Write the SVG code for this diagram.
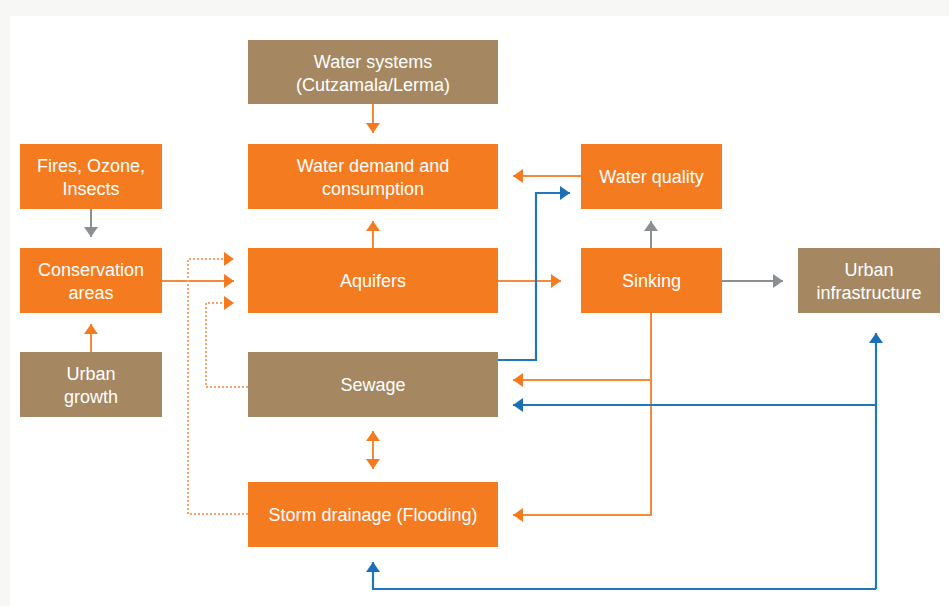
<svg xmlns="http://www.w3.org/2000/svg" width="949" height="606" viewBox="0 0 949 606">
<style>
.o{fill:#f47b20}
.b{fill:#a58861}
text{font-family:"Liberation Sans",Arial,sans-serif;font-size:18px;fill:#ffffff;text-anchor:middle}
.lo{stroke:#f58a3c;stroke-width:2;fill:none}
.lg{stroke:#8c8f92;stroke-width:2;fill:none}
.lb{stroke:#1f76bc;stroke-width:2.2;fill:none}
.ld{stroke:#f7a26a;stroke-width:2;fill:none;stroke-dasharray:2 2}
</style>
<defs>
<marker id="ao" viewBox="0 0 10 14" refX="10" refY="7" markerWidth="10" markerHeight="14" markerUnits="userSpaceOnUse" orient="auto"><path d="M0,0 L10,7 L0,14 Z" fill="#f47b20"/></marker>
<marker id="ag" viewBox="0 0 10 14" refX="10" refY="7" markerWidth="10" markerHeight="14" markerUnits="userSpaceOnUse" orient="auto"><path d="M0,0 L10,7 L0,14 Z" fill="#8c8f92"/></marker>
<marker id="ab" viewBox="0 0 10 14" refX="10" refY="7" markerWidth="10" markerHeight="14" markerUnits="userSpaceOnUse" orient="auto"><path d="M0,0 L10,7 L0,14 Z" fill="#1a70b8"/></marker>
<marker id="aos" viewBox="0 0 10 14" refX="0" refY="7" markerWidth="10" markerHeight="14" markerUnits="userSpaceOnUse" orient="auto"><path d="M10,0 L0,7 L10,14 Z" fill="#f47b20"/></marker>
</defs>
<rect x="0" y="0" width="949" height="606" fill="#f7f8f5"/>
<rect x="10" y="16" width="939" height="590" fill="#ffffff"/>

<g id="connectors">
<line class="lo" x1="373" y1="104" x2="373" y2="133" marker-end="url(#ao)"/>
<line class="lo" x1="373" y1="248" x2="373" y2="221" marker-end="url(#ao)"/>
<line class="lo" x1="581" y1="176" x2="513" y2="176" marker-end="url(#ao)"/>
<line class="lg" x1="91" y1="209" x2="91" y2="237" marker-end="url(#ag)"/>
<line class="lo" x1="91" y1="352" x2="91" y2="324" marker-end="url(#ao)"/>
<line class="lo" x1="162" y1="281" x2="234" y2="281" marker-end="url(#ao)"/>
<polyline class="ld" points="248,514 188,514 188,259 226,259"/>
<path d="M224,252 L234,259 L224,266 Z" fill="#f47b20"/>
<polyline class="ld" points="248,387 206,387 206,303 226,303"/>
<path d="M224,296 L234,303 L224,310 Z" fill="#f47b20"/>
<line class="lo" x1="498" y1="281" x2="561" y2="281" marker-end="url(#ao)"/>
<line class="lg" x1="651" y1="248" x2="651" y2="221" marker-end="url(#ag)"/>
<line class="lg" x1="722" y1="281" x2="783" y2="281" marker-end="url(#ag)"/>
<polyline class="lo" points="651,313 651,515 513,515" marker-end="url(#ao)"/>
<polyline class="lo" points="651,380 513,380" marker-end="url(#ao)"/>
<line class="lo" x1="373" y1="431" x2="373" y2="469" marker-start="url(#aos)" marker-end="url(#ao)"/>
<polyline class="lb" points="498,360 536,360 536,193 570,193" marker-end="url(#ab)"/>
<polyline class="lb" points="876,589 876,333" marker-end="url(#ab)"/>
<polyline class="lb" points="876,405 513,405" marker-end="url(#ab)"/>
<polyline class="lb" points="876,589 373,589 373,562" marker-end="url(#ab)"/>
</g>

<g id="water-systems"><rect class="b" x="248" y="40" width="250" height="64"/><text x="373" y="68">Water systems</text><text x="373" y="91">(Cutzamala/Lerma)</text></g>
<g id="water-demand"><rect class="o" x="248" y="144" width="250" height="65"/><text x="373" y="172">Water demand and</text><text x="373" y="195">consumption</text></g>
<g id="fires"><rect class="o" x="20" y="144" width="142" height="65"/><text x="91" y="172">Fires, Ozone,</text><text x="91" y="195">Insects</text></g>
<g id="water-quality"><rect class="o" x="581" y="144" width="141" height="65"/><text x="651.5" y="183">Water quality</text></g>
<g id="conservation"><rect class="o" x="20" y="248" width="142" height="65"/><text x="91" y="276">Conservation</text><text x="91" y="299">areas</text></g>
<g id="aquifers"><rect class="o" x="248" y="248" width="250" height="65"/><text x="373" y="287">Aquifers</text></g>
<g id="sinking"><rect class="o" x="581" y="248" width="141" height="65"/><text x="651.5" y="287">Sinking</text></g>
<g id="urban-infrastructure"><rect class="b" x="798" y="248" width="142" height="65"/><text x="869" y="276">Urban</text><text x="869" y="299">infrastructure</text></g>
<g id="urban-growth"><rect class="b" x="20" y="352" width="142" height="65"/><text x="91" y="380">Urban</text><text x="91" y="403">growth</text></g>
<g id="sewage"><rect class="b" x="248" y="352" width="250" height="65"/><text x="373" y="391">Sewage</text></g>
<g id="storm-drainage"><rect class="o" x="248" y="482" width="250" height="65"/><text x="373" y="521">Storm drainage (Flooding)</text></g>
</svg>
